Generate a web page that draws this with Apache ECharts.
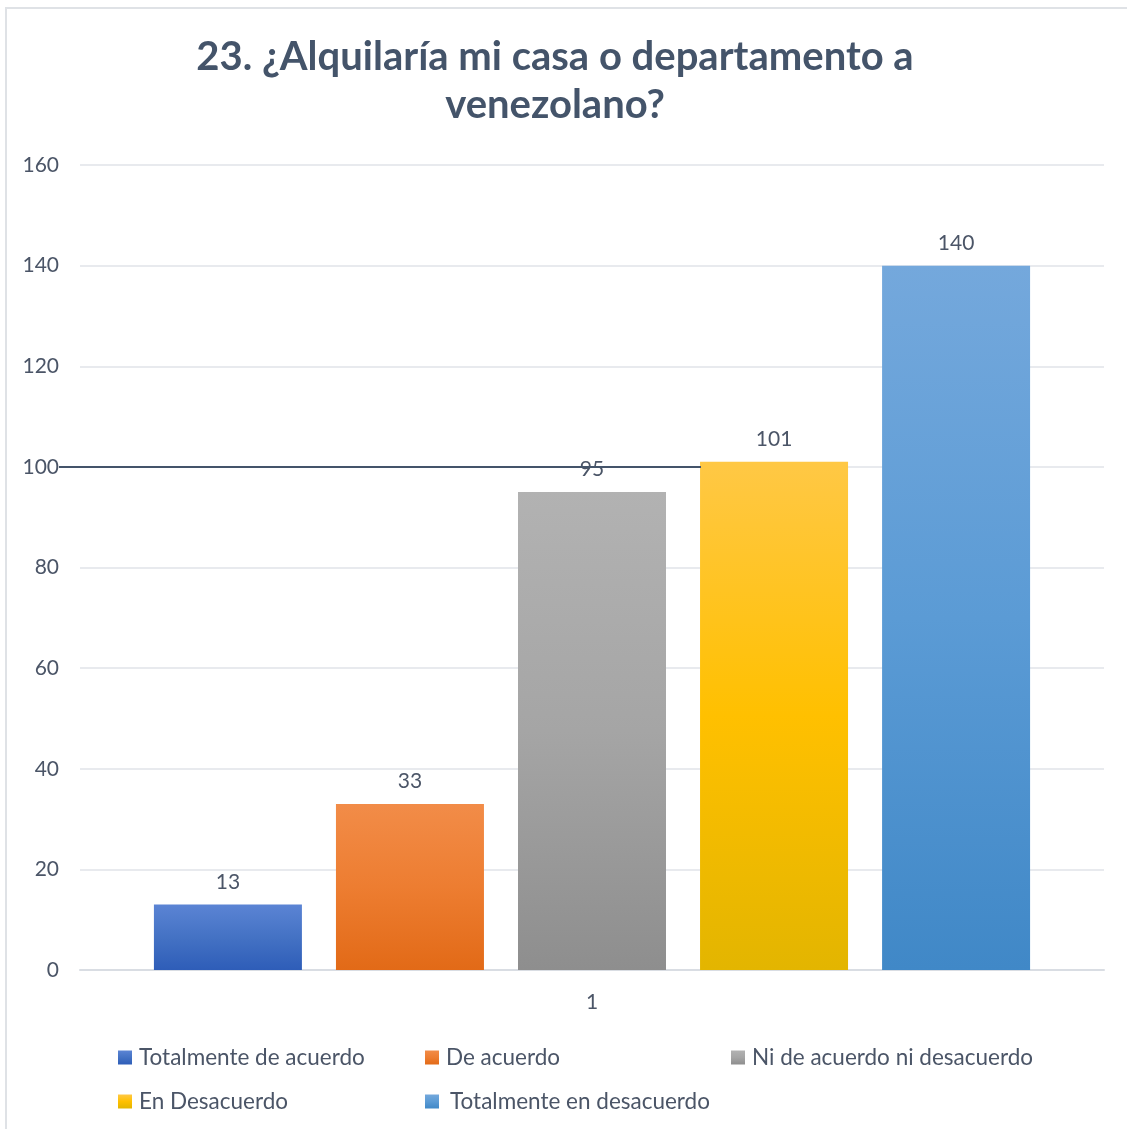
<!DOCTYPE html>
<html>
<head>
<meta charset="utf-8">
<script src="https://cdn.jsdelivr.net/npm/echarts@6/dist/echarts.min.js"></script>
<style>
  html, body { margin: 0; padding: 0; background: #fff; }
  #chart { position: absolute; left: 0; top: 0; width: 1127px; height: 1129px; }
  #frame { position: absolute; left: 5px; top: 7px; width: 1200px; height: 1200px;
           border-left: 2px solid #dfe2e6; border-top: 2px solid #dfe2e6; pointer-events: none; }
</style>
</head>
<body>
<div id="chart"></div>
<div id="frame"></div>
<script>
  var titleText = "23. ¿Alquilaría mi casa o departamento a\nvenezolano?";
  var categories = ["1"];
  var seriesNames = [
    "Totalmente de acuerdo",
    "De acuerdo",
    "Ni de acuerdo ni desacuerdo",
    "En Desacuerdo",
    "Totalmente en desacuerdo"
  ];
  var seriesValues = [13, 33, 95, 101, 140];
  var yTicks = { min: 0, max: 160, interval: 20 };
  var refLineValue = 100;

  // gradient stops per bar (top -> bottom)
  var gradients = [
    ["#5b84d4", "#4472c4", "#2e5db8"],
    ["#f28c48", "#ed7d31", "#e26a17"],
    ["#b2b2b2", "#a5a5a5", "#8e8e8e"],
    ["#ffc845", "#ffc000", "#e3b500"],
    ["#74a8dc", "#5b9bd5", "#4088c7"]
  ];

  var textColor = "#4b5567";
  var fontFam = "Lato, 'Noto Sans', sans-serif";

  var chart = echarts.init(document.getElementById("chart"));

  function grad(c) {
    return new echarts.graphic.LinearGradient(0, 0, 0, 1, [
      { offset: 0, color: c[0] },
      { offset: 0.5, color: c[1] },
      { offset: 1, color: c[2] }
    ]);
  }

  var series = seriesNames.map(function (name, i) {
    var s = {
      name: name,
      type: "bar",
      data: [seriesValues[i]],
      barWidth: 148,
      barGap: "23%",
      itemStyle: { color: grad(gradients[i]) },
      label: {
        show: true,
        position: "top",
        distance: 12,
        color: textColor,
        fontFamily: fontFam,
        fontSize: 21
      }
    };
    if (i === 2) {
      // dark line at 100 drawn across the left part of the plot
      s.markLine = {
        silent: true,
        symbol: "none",
        label: { show: false },
        lineStyle: { color: "#44546a", width: 2, type: "solid" },
        data: [[{ yAxis: refLineValue, x: 59 }, { yAxis: refLineValue, x: 701 }]]
      };
    }
    return s;
  });

  // legend positions (two rows, three columns)
  var legendPos = [
    [118, 1046], [425, 1046], [731, 1046],
    [118, 1090], [425, 1090]
  ];
  var legends = seriesNames.map(function (name, i) {
    return {
      data: [name],
      left: legendPos[i][0],
      top: legendPos[i][1],
      padding: 0,
      icon: "rect",
      itemWidth: 14,
      itemHeight: 14,
      selectedMode: false,
      textStyle: {
        color: textColor,
        fontFamily: fontFam,
        fontSize: 22.5,
        padding: i === 4 ? [0, 0, 0, 6] : [0, 0, 0, 2]
      }
    };
  });

  chart.setOption({
    animation: false,
    title: {
      text: titleText,
      left: 555,
      textAlign: "center",
      top: 33,
      padding: 0,
      textStyle: {
        color: "#44546a",
        fontFamily: fontFam,
        fontWeight: "bold",
        fontSize: 40,
        lineHeight: 48
      }
    },
    legend: legends,
    grid: { left: 80, right: 23, top: 165, bottom: 159, containLabel: false },
    xAxis: {
      type: "category",
      data: categories,
      axisLine: { lineStyle: { color: "#d9dde3", width: 2 } },
      axisTick: { show: false },
      axisLabel: { color: textColor, fontFamily: fontFam, fontSize: 21, margin: 22 }
    },
    yAxis: {
      type: "value",
      min: yTicks.min,
      max: yTicks.max,
      interval: yTicks.interval,
      axisLine: { show: false },
      axisTick: { show: false },
      axisLabel: { color: textColor, fontFamily: fontFam, fontSize: 21, margin: 21 },
      splitLine: { lineStyle: { color: "#e0e3e8", width: 1.5 } }
    },
    series: series
  });
</script>
</body>
</html>
